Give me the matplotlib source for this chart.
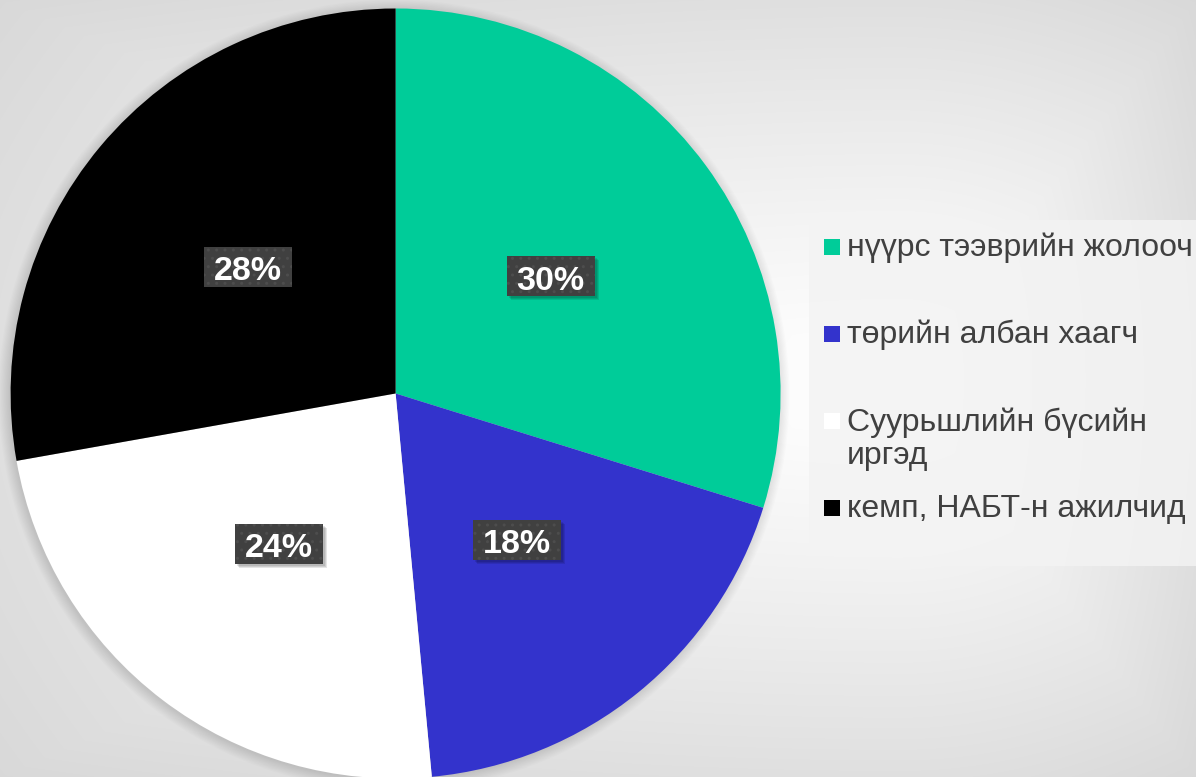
import numpy as np
import matplotlib
matplotlib.use("Agg")
import matplotlib.pyplot as plt
from matplotlib.patches import Rectangle, Circle

# ---- data ----
categories = ["нүүрс тээврийн жолооч", "төрийн албан хаагч",
              "Суурьшлийн бүсийн\nиргэд", "кемп, НАБТ-н ажилчид"]
values = [29.8, 18.7, 23.7, 27.8]
pct_labels = ["30%", "18%", "24%", "28%"]
colors = ["#00CC99", "#3333CC", "#FFFFFF", "#000000"]

W, H = 1196, 777
plt.rcParams['font.family'] = ['Liberation Sans', 'DejaVu Sans']
plt.rcParams['hatch.color'] = '#4d4d4d'
fig = plt.figure(figsize=(W / 100, H / 100), dpi=100)

# ---- background gradient ----
bg = fig.add_axes([0, 0, 1, 1], zorder=-10)
yy, xx = np.mgrid[0:H, 0:W]
cx, cy = 900.0, 380.0
dx = np.where(xx < cx, (xx - cx) / cx, (xx - cx) / (W - cx))
dy = np.where(yy < cy, (yy - cy) / cy, (yy - cy) / (H - cy))
r = np.clip(np.sqrt(dx ** 2 + dy ** 2) / np.sqrt(2), 0, 1)
r = 0.5 * r + 0.5 * np.maximum(np.abs(dx), np.abs(dy))
lo, hi = 0.85, 1.0
val = hi - (hi - lo) * r ** 1.2
img = np.dstack([val, val, val])
bg.imshow(img, extent=[0, W, H, 0], aspect='auto')
bg.set_xlim(0, W)
bg.set_ylim(H, 0)
bg.axis('off')

# ---- pie ----
R = 385.0
pcx, pcy = 395.6, 393.5
ax = fig.add_axes([(pcx - R) / W, (H - pcy - R) / H, 2 * R / W, 2 * R / H])
ax.set_xlim(-1, 1)
ax.set_ylim(-1, 1)
ax.axis('off')

for i in range(10):
    ax.add_patch(Circle((-0.004, -0.004), 1.0 + 0.003 * i, facecolor='black',
                        alpha=0.012, edgecolor='none', zorder=0, clip_on=False))

wedges, texts = ax.pie(values, colors=colors, startangle=90, counterclock=False,
                       labels=pct_labels, labeldistance=0.5,
                       wedgeprops=dict(linewidth=0, zorder=2, clip_on=False),
                       textprops=dict(color='white', fontsize=24.5, fontweight='bold',
                                      ha='center', va='center', zorder=6))
ax.set_xlim(-1, 1)
ax.set_ylim(-1, 1)

# label boxes sized from rendered text
fig.canvas.draw()
inv = fig.transFigure.inverted()
bw, bh = 88, 40
for t in texts:
    ext = t.get_window_extent()
    xc = (ext.x0 + ext.x1) / 2
    yc = (ext.y0 + ext.y1) / 2 + 3
    for k, a in enumerate([0.10, 0.10, 0.10]):
        o = 2 + k
        (fx, fy) = inv.transform((xc - bw / 2 + o, yc - bh / 2 - o))
        fig.patches.append(Rectangle((fx, fy), bw / W, bh / H, transform=fig.transFigure,
                                     facecolor='black', alpha=a, edgecolor='none', zorder=3))
    (fx, fy) = inv.transform((xc - bw / 2, yc - bh / 2))
    fig.patches.append(Rectangle((fx, fy), bw / W, bh / H, transform=fig.transFigure,
                                 facecolor='#404040', edgecolor='none', zorder=4))
    fig.patches.append(Rectangle((fx, fy), bw / W, bh / H, transform=fig.transFigure,
                                 facecolor='none', edgecolor='#4d4d4d', linewidth=0,
                                 hatch='..', zorder=4))
    t.remove()
    fig.text(xc / W, (yc - 5) / H, t.get_text(), color='white', fontsize=24.5,
             fontweight='bold', ha='center', va='center', zorder=7)

# ---- legend ----
lx0, ly0, lx1, ly1 = 809, 220, 1196, 566
fig.patches.append(Rectangle((lx0 / W, 1 - ly1 / H), (lx1 - lx0) / W, (ly1 - ly0) / H,
                             transform=fig.transFigure, facecolor='#f3f3f3',
                             edgecolor='none', zorder=1, alpha=0.85))
y_first, step = 247, 87
ms = 16
for i, (cat, col) in enumerate(zip(categories, colors)):
    yc = y_first + step * i
    fig.patches.append(Rectangle((824 / W, 1 - (yc + ms / 2) / H), ms / W, ms / H,
                                 transform=fig.transFigure, facecolor=col,
                                 edgecolor='none', zorder=2))
    fig.text(847 / W, 1 - (yc - 14) / H, cat, fontsize=23, color='#404040',
             ha='left', va='top', linespacing=1.14, zorder=3)

fig.savefig("out.png", dpi=100)
